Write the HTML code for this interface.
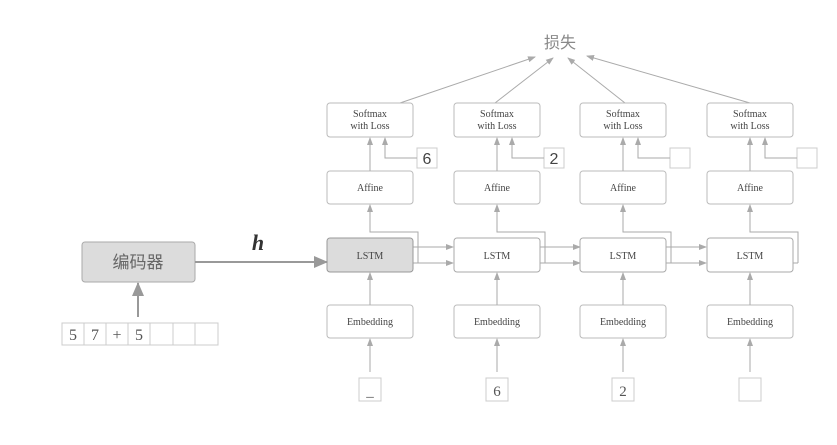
<!DOCTYPE html><html><head><meta charset="utf-8"><style>body{margin:0;background:#fff}svg{display:block}</style></head><body>
<svg width="837" height="445" viewBox="0 0 837 445" xmlns="http://www.w3.org/2000/svg" font-family="Liberation Serif, serif">
<defs>
<marker id="a" markerWidth="8" markerHeight="8" refX="7" refY="4" orient="auto" markerUnits="userSpaceOnUse"><path d="M0,1 L8,4 L0,7z" fill="#aaa"/></marker>
<marker id="b" markerWidth="14" markerHeight="14" refX="13" refY="7" orient="auto" markerUnits="userSpaceOnUse"><path d="M0,1 L14,7 L0,13z" fill="#999"/></marker>
<g id="col">
<rect x="327" y="103" width="86" height="34" rx="3" fill="#fff" stroke="#bbb"/>
<text x="370" y="117" font-size="10" fill="#444" text-anchor="middle">Softmax</text>
<text x="370" y="129" font-size="10" fill="#444" text-anchor="middle">with Loss</text>
<rect x="327" y="171" width="86" height="33" rx="3" fill="#fff" stroke="#bbb"/>
<text x="370" y="191" font-size="10" fill="#444" text-anchor="middle">Affine</text>
<rect x="327" y="305" width="86" height="33" rx="3" fill="#fff" stroke="#bbb"/>
<text x="370" y="325" font-size="10" fill="#444" text-anchor="middle">Embedding</text>
<rect x="359" y="378" width="22" height="23" fill="#fff" stroke="#ccc"/>
<rect x="417" y="148" width="20" height="20" fill="#fff" stroke="#ccc"/>
<g stroke="#aaa" fill="none" marker-end="url(#a)">
<line x1="370" y1="171" x2="370" y2="138"/>
<polyline points="417,158 385,158 385,138"/>
<line x1="370" y1="305" x2="370" y2="273"/>
<line x1="370" y1="372" x2="370" y2="339"/>
<polyline points="418,263 418,232 370,232 370,205"/>
</g>
</g>
<g id="link" stroke="#aaa" fill="none">
<line x1="413" y1="247" x2="453" y2="247" marker-end="url(#a)"/>
<polyline points="418,247 418,263 413,263"/>
<line x1="413" y1="263" x2="453" y2="263" marker-end="url(#a)"/>
</g>
</defs>
<rect x="0" y="0" width="837" height="445" fill="#fff"/>
<text x="560" y="48" font-size="16" fill="#888" text-anchor="middle" font-family="Noto Sans CJK SC, sans-serif">损失</text>
<g stroke="#aaa" fill="none" stroke-width="1" marker-end="url(#a)">
<line x1="400" y1="103" x2="535" y2="57"/>
<line x1="495" y1="103" x2="553" y2="58"/>
<line x1="625" y1="103" x2="568" y2="58"/>
<line x1="750" y1="103" x2="587" y2="56"/>
</g>
<use href="#col"/>
<use href="#col" transform="translate(127,0)"/>
<use href="#col" transform="translate(253,0)"/>
<use href="#col" transform="translate(380,0)"/>
<use href="#link"/>
<use href="#link" transform="translate(127,0)"/>
<use href="#link" transform="translate(253,0)"/>
<line x1="798" y1="263" x2="793" y2="263" stroke="#aaa"/>
<!-- LSTM boxes -->
<rect x="327" y="238" width="86" height="34" rx="3" fill="#dcdcdc" stroke="#999"/>
<rect x="454" y="238" width="86" height="34" rx="3" fill="#fff" stroke="#aaa"/>
<rect x="580" y="238" width="86" height="34" rx="3" fill="#fff" stroke="#aaa"/>
<rect x="707" y="238" width="86" height="34" rx="3" fill="#fff" stroke="#aaa"/>
<g font-size="10" fill="#444" text-anchor="middle">
<text x="370" y="259">LSTM</text><text x="497" y="259">LSTM</text><text x="623" y="259">LSTM</text><text x="750" y="259">LSTM</text>
</g>
<g font-size="16" fill="#444" text-anchor="middle" font-family="Liberation Sans, sans-serif">
<text x="427" y="164">6</text><text x="554" y="164">2</text>
</g>
<g font-size="15" fill="#555" text-anchor="middle">
<text x="370" y="396">_</text><text x="497" y="396">6</text><text x="623" y="396">2</text>
</g>
<!-- encoder -->
<rect x="82" y="242" width="113" height="40" rx="3" fill="#dcdcdc" stroke="#aaa"/>
<text x="138" y="268" font-size="17" fill="#666" text-anchor="middle" font-family="Noto Sans CJK SC, sans-serif">编码器</text>
<text x="258" y="250" font-size="22" font-style="italic" font-weight="bold" fill="#333" text-anchor="middle">h</text>
<line x1="195" y1="262" x2="327" y2="262" stroke="#999" stroke-width="2" marker-end="url(#b)"/>
<line x1="138" y1="317" x2="138" y2="283" stroke="#999" stroke-width="2" marker-end="url(#b)"/>
<g stroke="#ccc" fill="#fff">
<rect x="62" y="323" width="22" height="22"/><rect x="84" y="323" width="22" height="22"/><rect x="106" y="323" width="22" height="22"/><rect x="128" y="323" width="22" height="22"/><rect x="150" y="323" width="23" height="22"/><rect x="173" y="323" width="22" height="22"/><rect x="195" y="323" width="23" height="22"/>
</g>
<g font-size="16" fill="#555" text-anchor="middle">
<text x="73" y="340">5</text><text x="95" y="340">7</text><text x="117" y="340">+</text><text x="139" y="340">5</text>
</g>
</svg>
</body></html>
